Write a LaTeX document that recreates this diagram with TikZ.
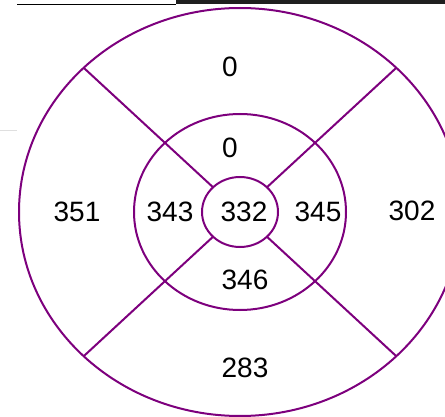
\documentclass[tikz,border=0pt]{standalone}
\usepackage{fontspec}
\setmainfont{Liberation Sans}
\begin{document}
\begin{tikzpicture}[x=1pt,y=-1pt,
  ring/.style={draw=ringcol, line width=2pt},
  spoke/.style={draw=ringcol, line width=2pt},
  lbl/.style={font=\fontsize{28}{31}\selectfont, inner sep=0pt}]
\definecolor{ringcol}{RGB}{125,0,125}
\useasboundingbox (0,0) rectangle (445,417);
% top strip
\fill[black!88] (176,0) rectangle (445,4.3);
\draw[line width=1pt] (17,4.3) -- (176,4.3);
\draw[gray!25, line width=0.8pt] (0,130) -- (17,130);
% rings
\coordinate (c) at (240,212);
\draw[ring] (c) ellipse [x radius=221, y radius=204];
\draw[ring] (c) ellipse [x radius=106, y radius=98];
\draw[ring] (c) ellipse [x radius=38, y radius=35];
% spokes
\coordinate (o1) at (83.7,67.8);  \coordinate (i1) at (213.1,187.3);
\coordinate (o2) at (396.3,67.8); \coordinate (i2) at (266.9,187.3);
\coordinate (o3) at (83.7,356.2); \coordinate (i3) at (213.1,236.7);
\coordinate (o4) at (396.3,356.2);\coordinate (i4) at (266.9,236.7);
\draw[spoke] (o1) -- (i1);
\draw[spoke] (o2) -- (i2);
\draw[spoke] (o3) -- (i3);
\draw[spoke] (o4) -- (i4);
% labels
\node[lbl] (t0) at (230,67) {0};
\node[lbl] (m0) at (230,148) {0};
\node[lbl] (l351) at (77,212) {351};
\node[lbl] (l343) at (170,212) {343};
\node[lbl] (l332) at (244,212) {332};
\node[lbl] (l345) at (318,212) {345};
\node[lbl] (l302) at (412,211) {302};
\node[lbl] (l346) at (245,280) {346};
\node[lbl] (l283) at (245,368) {283};
\end{tikzpicture}
\end{document}
